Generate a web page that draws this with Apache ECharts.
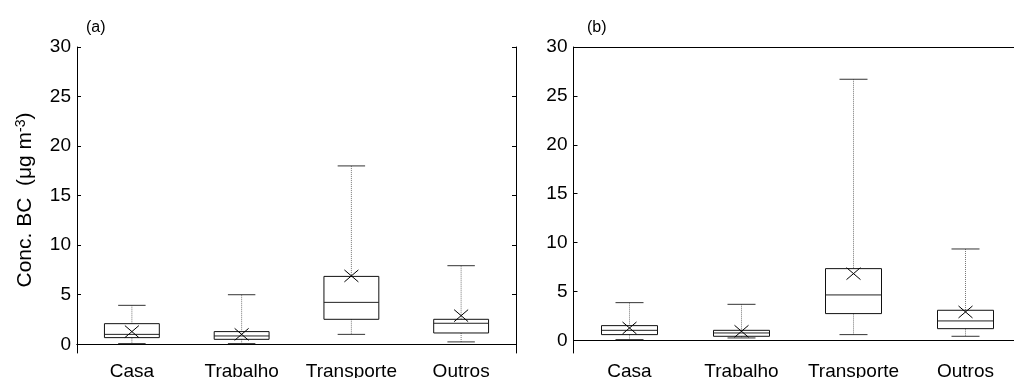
<!DOCTYPE html>
<html>
<head>
<meta charset="utf-8">
<script src="https://cdn.jsdelivr.net/npm/echarts@6/dist/echarts.min.js"></script>
<style>html,body{margin:0;padding:0;background:#fff;}#c{width:1014px;height:378px;}</style>
</head>
<body>
<div id="c"></div>
<script>
const categories = ['Casa', 'Trabalho', 'Transporte', 'Outros'];
const yTicks = [0, 5, 10, 15, 20, 25, 30];

// Panel (a)
const lowA  = [0.07, 0.07, 1.0, 0.24];
const q1A   = [0.67, 0.50, 2.52, 1.14];
const medA  = [1.00, 0.84, 4.23, 2.12];
const q3A   = [2.08, 1.28, 6.85, 2.52];
const highA = [3.93, 5.00, 18.0, 7.93];
const meanA = [1.28, 1.00, 6.90, 2.89];

// Panel (b)
const lowB  = [0.07, 0.24, 0.58, 0.41];
const q1B   = [0.58, 0.41, 2.73, 1.19];
const medB  = [1.02, 0.75, 4.64, 1.98];
const q3B   = [1.50, 1.02, 7.33, 3.07];
const highB = [3.85, 3.68, 26.7, 9.34];
const meanB = [1.26, 0.92, 6.82, 2.90];

function build(low, q1, med, q3, high, mean) {
  return categories.map((c, i) => [i, low[i], q1[i], med[i], q3[i], high[i], mean[i]]);
}

const FONT = 'Liberation Sans, Arial, sans-serif';

function renderBox(params, api) {
  const idx = api.value(0);
  const band = api.size([1, 0])[0];
  const pLow = api.coord([idx, api.value(1)]);
  const pQ1 = api.coord([idx, api.value(2)]);
  const pMed = api.coord([idx, api.value(3)]);
  const pQ3 = api.coord([idx, api.value(4)]);
  const pHigh = api.coord([idx, api.value(5)]);
  const pMean = api.coord([idx, api.value(6)]);
  const x = pMed[0];
  const bw = band * 0.5;
  const cw = band * 0.25;
  const solid = {stroke: '#111', lineWidth: 1, fill: null};
  const dotted = {stroke: '#777', lineWidth: 1, lineDash: [1, 1]};
  const line = (x1, y1, x2, y2, st) => ({type: 'line', shape: {x1, y1, x2, y2}, style: st});
  const xs = 7, ys = 6;
  return {
    type: 'group',
    children: [
      line(x, pHigh[1], x, pQ3[1], dotted),
      line(x, pQ1[1], x, pLow[1], dotted),
      line(x - cw / 2, pHigh[1], x + cw / 2, pHigh[1], {stroke: '#333', lineWidth: 1}),
      line(x - cw / 2, pLow[1], x + cw / 2, pLow[1], {stroke: '#333', lineWidth: 1}),
      {type: 'rect', shape: {x: x - bw / 2, y: pQ3[1], width: bw, height: pQ1[1] - pQ3[1]}, style: solid},
      line(x - bw / 2, pMed[1], x + bw / 2, pMed[1], {stroke: '#222', lineWidth: 1}),
      line(pMean[0] - xs, pMean[1] - ys, pMean[0] + xs, pMean[1] + ys, {stroke: '#000', lineWidth: 1}),
      line(pMean[0] - xs, pMean[1] + ys, pMean[0] + xs, pMean[1] - ys, {stroke: '#000', lineWidth: 1})
    ]
  };
}

const lineStyle = {color: '#000', width: 1};

function xAxes(gi) {
  return [
    {
      type: 'category', gridIndex: gi, data: categories, position: 'bottom',
      axisLine: {show: true, lineStyle}, axisTick: {show: false},
      axisLabel: {color: '#000', fontSize: 19, fontFamily: FONT, margin: 9, interval: 0, hideOverlap: false},
      splitLine: {show: false}
    },
    {
      type: 'category', gridIndex: gi, data: categories, position: 'top',
      axisLine: {show: true, lineStyle}, axisTick: {show: false},
      axisLabel: {show: false}, splitLine: {show: false}
    }
  ];
}

function yAxes(gi, min, withName, rightSide) {
  const arr = [{
    type: 'value', gridIndex: gi, min: min, max: 30, position: 'left',
    axisLine: {show: true, lineStyle},
    axisTick: {show: true, inside: true, length: 4, lineStyle, customValues: yTicks},
    axisLabel: {color: '#000', fontSize: 19, fontFamily: FONT, margin: 6, customValues: yTicks},
    splitLine: {show: false},
    name: withName ? 'Conc. BC  (μg m{sup|-3})' : '',
    nameLocation: 'middle', nameGap: 40, nameRotate: 90,
    nameTextStyle: {
      color: '#000', fontSize: 21, fontFamily: FONT,
      rich: {sup: {fontSize: 14, verticalAlign: 'top', color: '#000', fontFamily: FONT, padding: [0, 0, 9, 0]}}
    }
  }];
  if (rightSide) {
    arr.push({
      type: 'value', gridIndex: gi, min: min, max: 30, position: 'right',
      axisLine: {show: true, lineStyle},
      axisTick: {show: true, inside: true, length: 4, lineStyle, customValues: yTicks},
      axisLabel: {show: false}, splitLine: {show: false}
    });
  }
  return arr;
}

const chart = echarts.init(document.getElementById('c'), null, {renderer: 'canvas'});
const xa = xAxes(0).concat(xAxes(1));
const ya = yAxes(0, -0.88, true, true).concat(yAxes(1, -1.3, false, false));

chart.setOption({
  backgroundColor: '#fff',
  animation: false,
  title: [
    {text: '(a)', left: 86, top: 20, padding: 0, textStyle: {fontSize: 16, fontWeight: 'normal', color: '#000', fontFamily: FONT}},
    {text: '(b)', left: 587, top: 20, padding: 0, textStyle: {fontSize: 16, fontWeight: 'normal', color: '#000', fontFamily: FONT}}
  ],
  grid: [
    {left: 77, top: 47, width: 439, height: 306, containLabel: false, outerBoundsMode: 'none'},
    {left: 573.5, top: 47, width: 448, height: 306, containLabel: false, outerBoundsMode: 'none'}
  ],
  xAxis: xa,
  yAxis: ya,
  series: [
    {type: 'custom', xAxisIndex: 0, yAxisIndex: 0, renderItem: renderBox,
     encode: {x: 0, y: [1, 2, 3, 4, 5, 6]}, data: build(lowA, q1A, medA, q3A, highA, meanA)},
    {type: 'custom', xAxisIndex: 2, yAxisIndex: 2, renderItem: renderBox,
     encode: {x: 0, y: [1, 2, 3, 4, 5, 6]}, data: build(lowB, q1B, medB, q3B, highB, meanB)}
  ]
});
</script>
</body>
</html>
